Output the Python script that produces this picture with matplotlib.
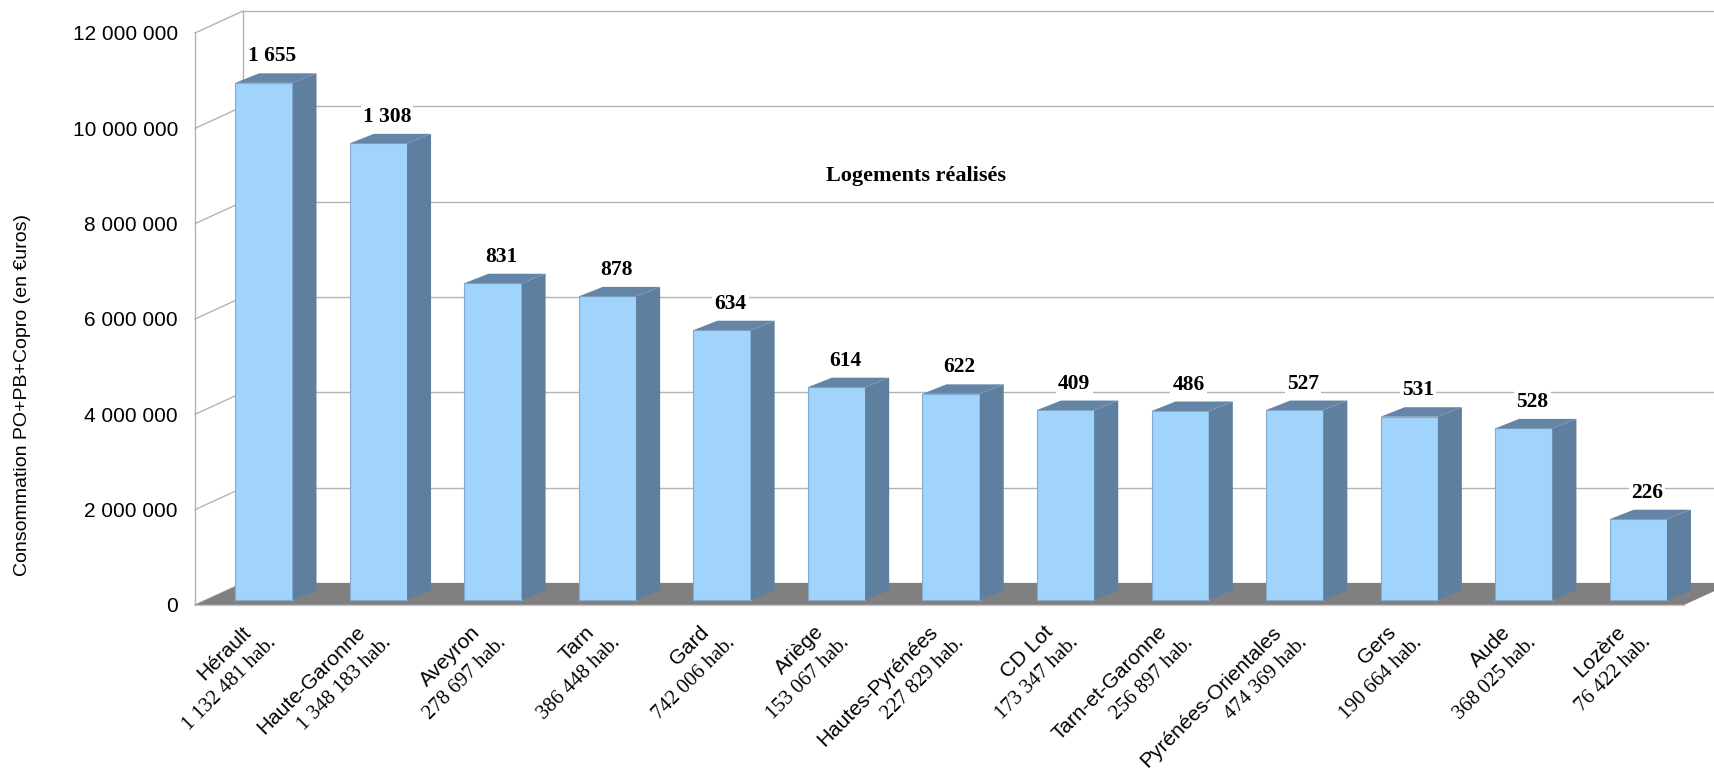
import matplotlib
matplotlib.use("Agg")
import matplotlib.pyplot as plt
from matplotlib.patches import Polygon

plt.rcParams["font.family"] = ["Liberation Sans", "DejaVu Sans"]

departements = ["Hérault", "Haute-Garonne", "Aveyron", "Tarn", "Gard", "Ariège",
                "Hautes-Pyrénées", "CD Lot", "Tarn-et-Garonne", "Pyrénées-Orientales",
                "Gers", "Aude", "Lozère"]
habitants = ["1 132 481", "1 348 183", "278 697", "386 448", "742 006", "153 067",
             "227 829", "173 347", "256 897", "474 369", "190 664", "368 025", "76 422"]
consommation = [10_850_000, 9_580_000, 6_645_000, 6_370_000, 5_660_000, 4_465_000,
                4_325_000, 3_985_000, 3_965_000, 3_985_000, 3_845_000, 3_600_000, 1_695_000]
logements = [1655, 1308, 831, 878, 634, 614, 622, 409, 486, 527, 531, 528, 226]
y_ticks = [0, 2_000_000, 4_000_000, 6_000_000, 8_000_000, 10_000_000, 12_000_000]

# figure size in pixels and the front plane of the axes
W, H = 1715, 775
left_px, right_px = 195, 1684
bottom_px, top_px = 605, 33

grid_col = "#b3b3b3"
front_col = "#a0d4fc"
side_col = "#5f7f9f"
top_col = "#6585a6"
edge_col = "#86aacb"


def fmt(v):
    return f"{v:,}".replace(",", " ")


fig = plt.figure(figsize=(W / 100, H / 100), dpi=100)
ax = fig.add_axes([left_px / W, 1 - bottom_px / H,
                   (right_px - left_px) / W, (bottom_px - top_px) / H])
n = len(departements)
ax.set_xlim(-0.5, n - 0.5)
ax.set_ylim(0, y_ticks[-1])
ax.patch.set_visible(False)

# data units per pixel
px_x = n / (right_px - left_px)
px_y = y_ticks[-1] / (bottom_px - top_px)

# depth of the walls, position and depth of the bars
wx, wy = 48 * px_x, 22 * px_y
fx, fy = 11.6 * px_x, 5 * px_y
bx, by = 24 * px_x, 9.5 * px_y
bw = 0.5

# left wall and back wall with grid lines
for t in y_ticks:
    ax.plot([-0.5, -0.5 + wx], [t, t + wy], color=grid_col, lw=1.0,
            clip_on=False, zorder=1)
    ax.plot([-0.5 + wx, n - 0.5 + wx], [t + wy, t + wy], color=grid_col, lw=1.0,
            clip_on=False, zorder=1)
ax.plot([-0.5, -0.5], [0, y_ticks[-1]], color=grid_col, lw=1.0, clip_on=False, zorder=1)
ax.plot([-0.5 + wx, -0.5 + wx], [wy, y_ticks[-1] + wy], color=grid_col, lw=1.0,
        clip_on=False, zorder=1)

# floor
floor = Polygon([(-0.5, 0), (n - 0.5, 0), (n - 0.5 + wx, wy), (-0.5 + wx, wy)],
                closed=True, facecolor="#808080", edgecolor="none",
                clip_on=False, zorder=2)
ax.add_patch(floor)
ax.plot([-0.5, n - 0.5], [0, 0], color="#c8c8c8", lw=1.0, clip_on=False, zorder=2)

# bars: front face, side and top
for i, v in enumerate(consommation):
    ax.bar(i + fx, v, width=bw, bottom=fy, color=front_col, edgecolor=edge_col,
           linewidth=0.8, zorder=3, clip_on=False)
    xl, xr = i + fx - bw / 2, i + fx + bw / 2
    side = Polygon([(xr, fy), (xr + bx, fy + by), (xr + bx, fy + v + by), (xr, fy + v)],
                   closed=True, facecolor=side_col, edgecolor="none",
                   clip_on=False, zorder=3)
    top = Polygon([(xl, fy + v), (xr, fy + v), (xr + bx, fy + v + by), (xl + bx, fy + v + by)],
                  closed=True, facecolor=top_col, edgecolor="none",
                  clip_on=False, zorder=3)
    ax.add_patch(side)
    ax.add_patch(top)
    ax.text(i + fx + 8.6 * px_x, fy + v + 21.5 * px_y, fmt(logements[i]),
            ha="center", va="baseline", fontsize=15.5, fontweight="bold",
            family="Liberation Serif", zorder=5, clip_on=False,
            bbox=dict(facecolor="white", edgecolor="none", pad=1.5))

# category labels, name and population on two lines
for i, (name, hab) in enumerate(zip(departements, habitants)):
    ax.text(i - 0.5 * px_x, -28 * px_y, name, rotation=45, rotation_mode="anchor",
            ha="right", va="baseline", fontsize=15, clip_on=False)
    ax.text(i + 25 * px_x, -38 * px_y, hab + " hab.", rotation=45,
            rotation_mode="anchor", ha="right", va="baseline", fontsize=15,
            family="Liberation Serif", clip_on=False)

ax.set_xticks([])
ax.set_yticks(y_ticks)
ax.set_yticklabels([fmt(t) for t in y_ticks])
ax.tick_params(axis="y", length=0, pad=17 * 0.72, labelsize=15)
for s in ax.spines.values():
    s.set_visible(False)

fig.text(916 / W, 1 - 176 / H, "Logements réalisés", ha="center", va="center",
         fontsize=16, fontweight="bold", family="Liberation Serif")
fig.text(23 / W, 1 - 395 / H, "Consommation PO+PB+Copro (en €uros)", rotation=90,
         ha="center", va="center", fontsize=14)

fig.savefig("out.png", dpi=100)
